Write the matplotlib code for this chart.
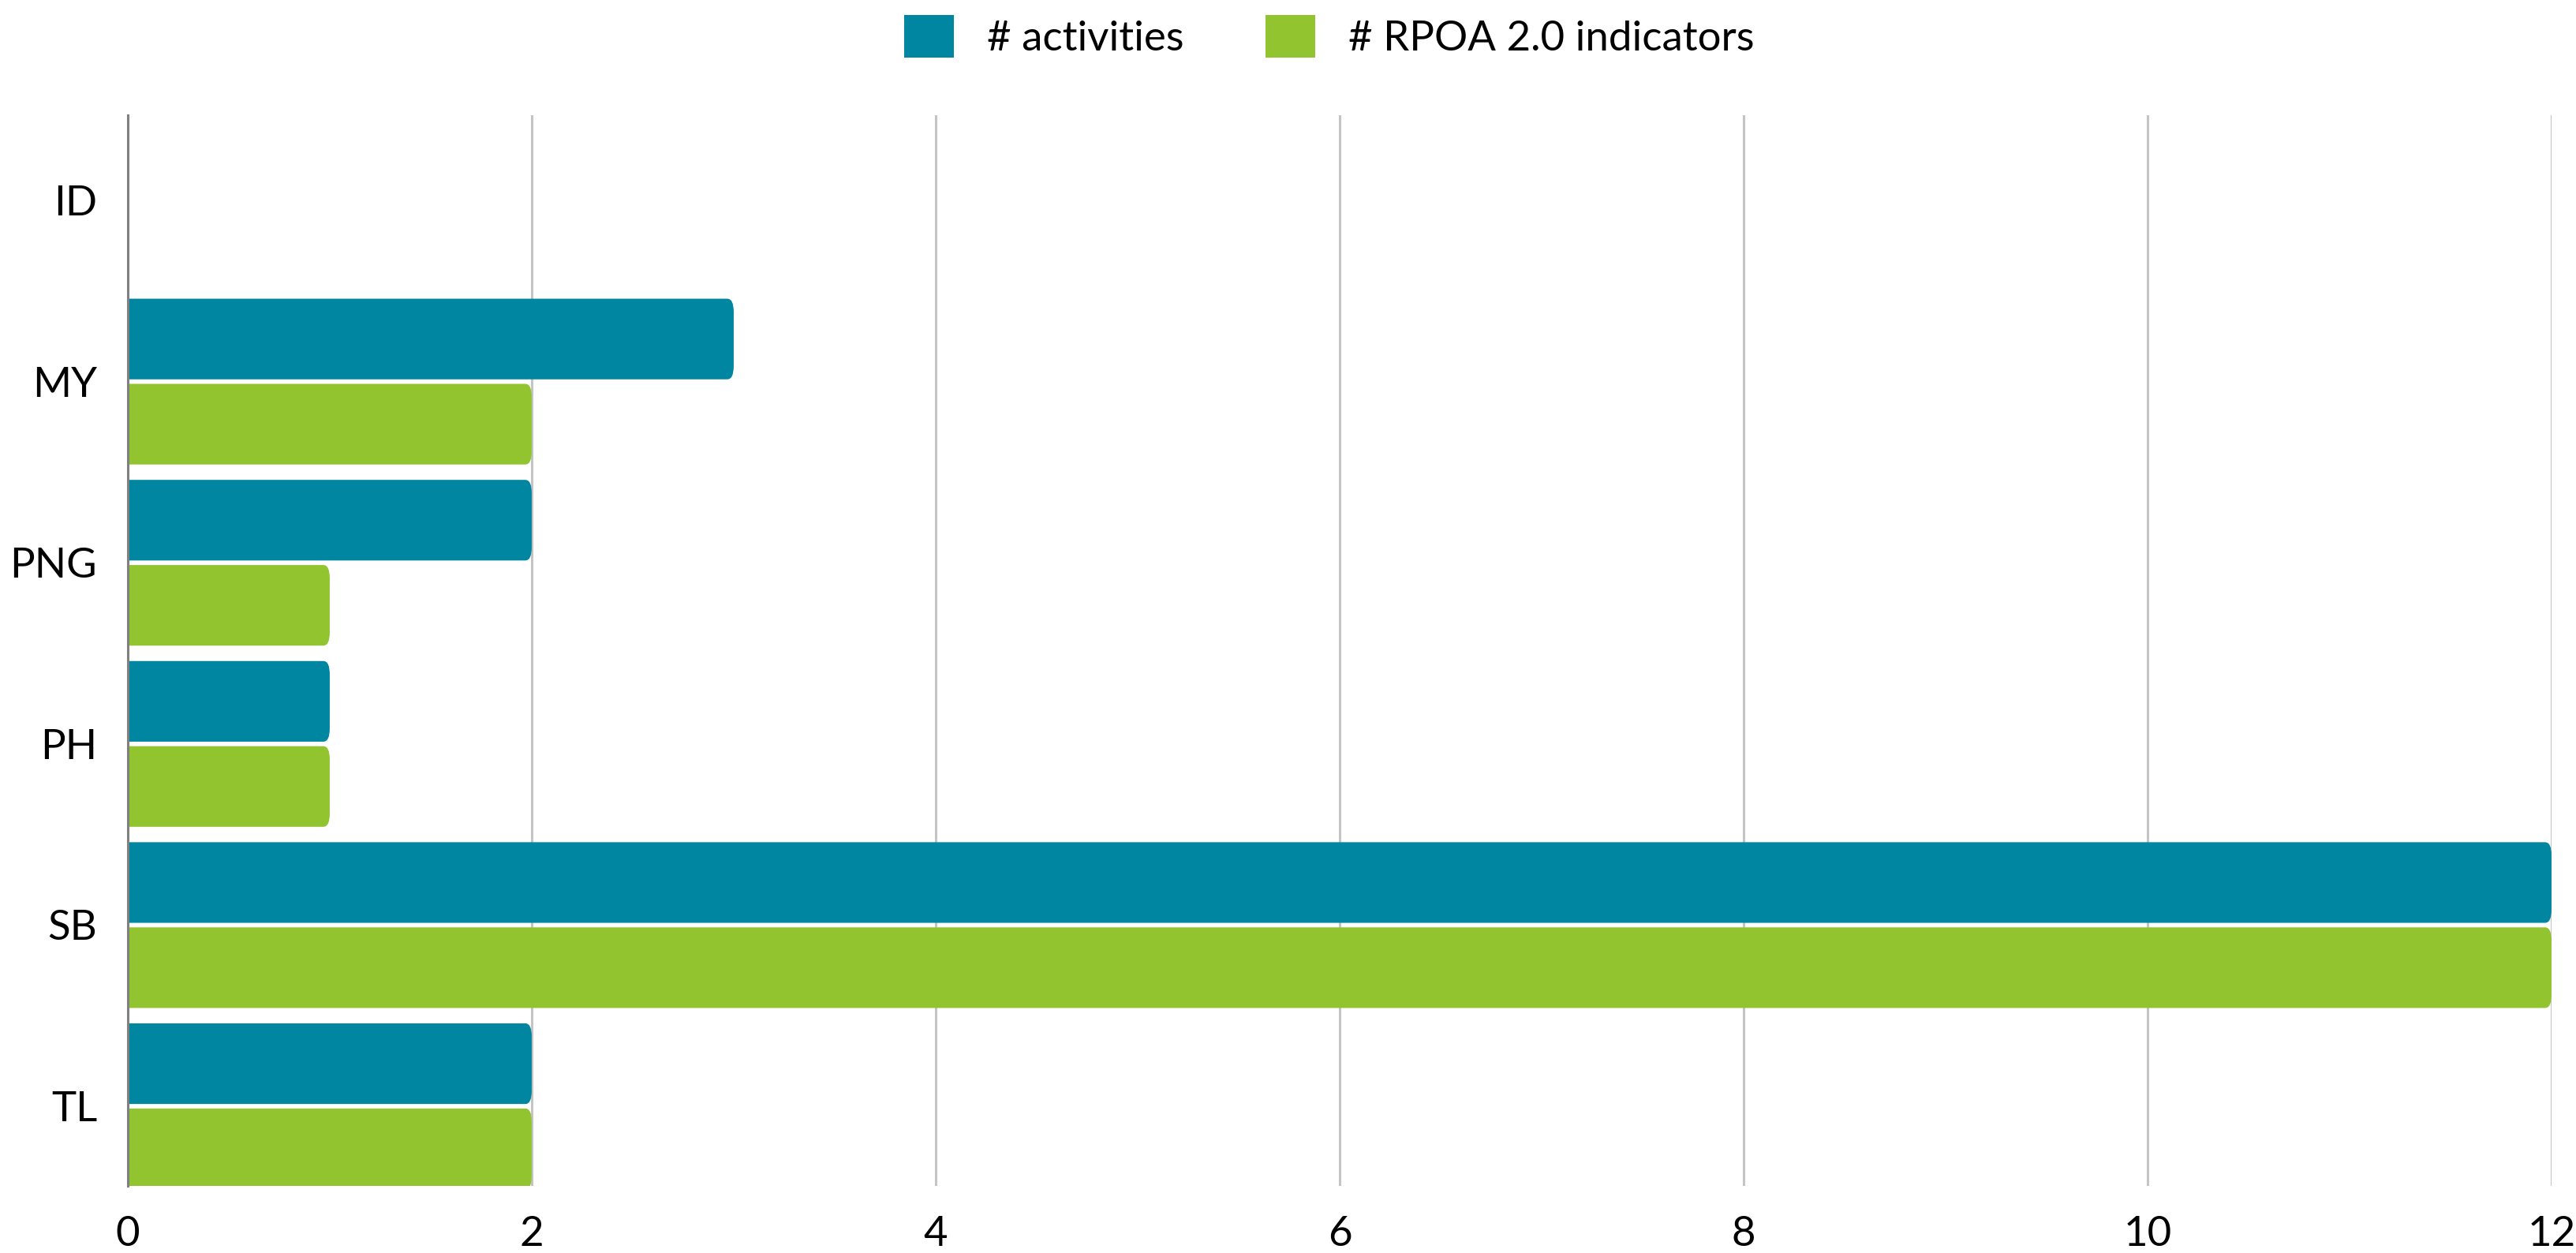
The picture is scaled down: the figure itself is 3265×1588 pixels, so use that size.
import numpy as np
import matplotlib
matplotlib.use('Agg')
import matplotlib.pyplot as plt
from matplotlib.patches import FancyBboxPatch, Patch

plt.rcParams['font.family'] = ['Lato', 'DejaVu Sans']

# data
countries = ['ID', 'MY', 'PNG', 'PH', 'SB', 'TL']
activities = [0, 3, 2, 1, 12, 2]
indicators = [0, 2, 1, 1, 12, 2]
series_names = ['# activities', '# RPOA 2.0 indicators']
x_ticks = [0, 2, 4, 6, 8, 10, 12]

teal = '#0086a0'
green = '#92c430'

fig = plt.figure(figsize=(32.65, 15.88), dpi=100)
ax = fig.add_axes([0.0496, 0.0535, 0.9409, 0.8545])

y = np.arange(len(countries))
h = 0.445
off = 0.235

ax.set_xlim(0, 12)
ax.set_ylim(5.44, -0.47)


def rounded_bars(values, offset, color):
    # extend left past x=0 so only the right corners look rounded
    for yi, v in zip(y, values):
        if v <= 0:
            continue
        p = FancyBboxPatch((-0.2, yi + offset - h / 2), v + 0.2, h,
                           boxstyle='round,pad=0,rounding_size=0.032',
                           mutation_aspect=2.3, facecolor=color,
                           edgecolor='none', zorder=3)
        ax.add_patch(p)


rounded_bars(activities, -off, teal)
rounded_bars(indicators, off, green)

ax.set_yticks(y)
ax.set_yticklabels(countries)
ax.set_xticks(x_ticks)
ax.set_xticklabels([str(t) for t in x_ticks])
ax.tick_params(axis='both', length=0, labelsize=38)
ax.tick_params(axis='y', pad=28)
ax.tick_params(axis='x', pad=27)

ax.grid(axis='x', color='#c4c4c4', linewidth=2.2, zorder=0)
ax.set_axisbelow(True)
for s in ['top', 'right', 'bottom']:
    ax.spines[s].set_visible(False)
ax.spines['left'].set_color('#808080')
ax.spines['left'].set_linewidth(2.2)
ax.spines['left'].set_zorder(4)

handles = [Patch(facecolor=teal, edgecolor='none'),
           Patch(facecolor=green, edgecolor='none')]
fig.legend(handles, series_names, loc='center', bbox_to_anchor=(0.516, 1 - 46 / 1588),
           ncol=2, frameon=False, fontsize=38, handlelength=1.2, handleheight=1.2,
           handletextpad=0.8, columnspacing=1.95)

fig.savefig('out.png', dpi=100)
